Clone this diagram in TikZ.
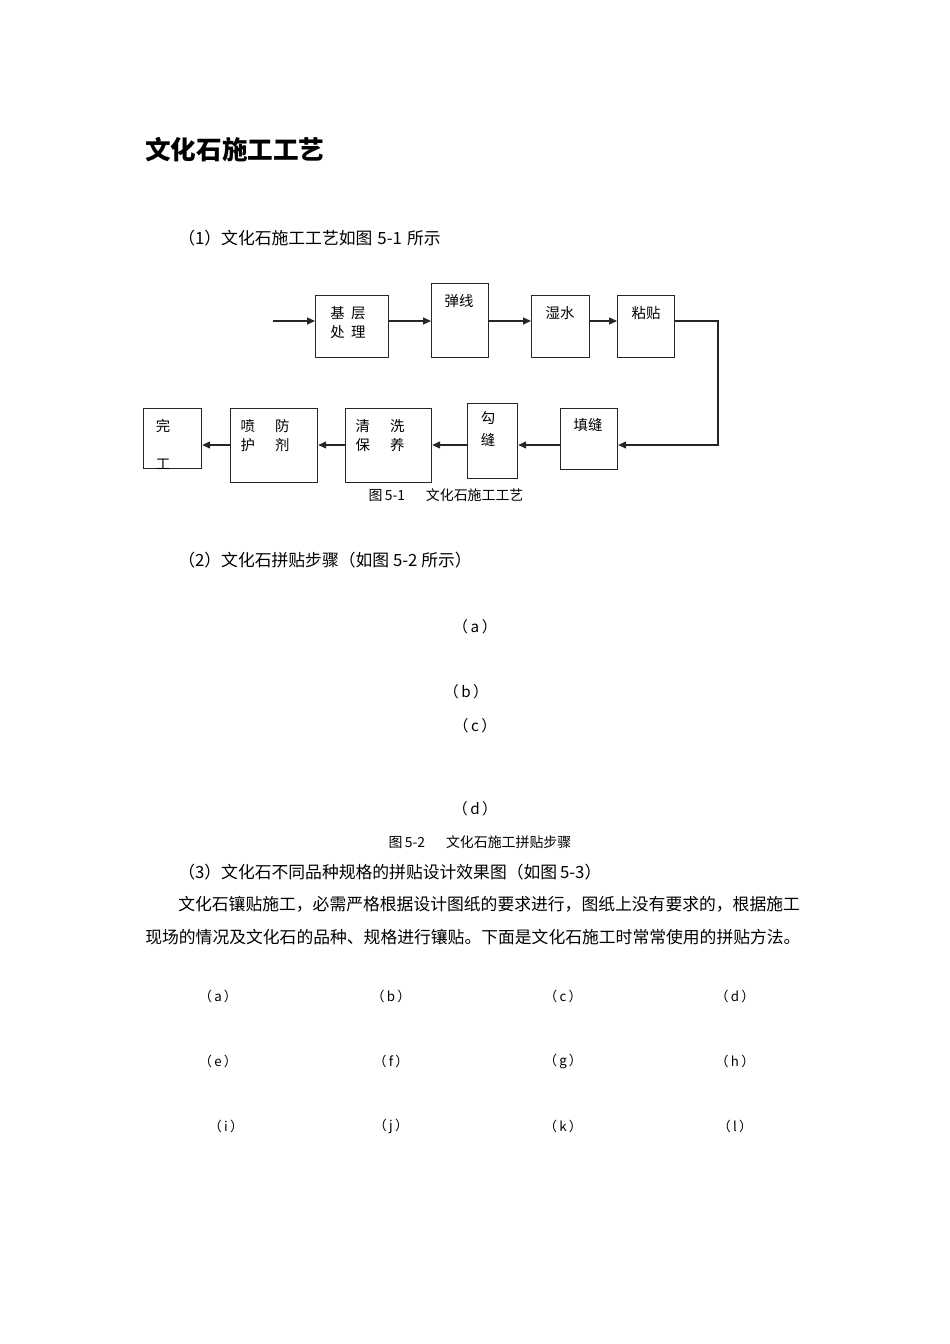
\documentclass[tikz,border=0pt]{standalone}
\usepackage{fontspec}
\setmainfont{Noto Sans CJK SC}
\usetikzlibrary{arrows.meta,positioning}
\tikzset{
  box/.style={draw=black!85, line width=0.75pt, inner sep=0pt, anchor=north west},
  arr/.style={draw=black!85, line width=0.75pt, -{Triangle[length=5pt,width=4.4pt]}},
  boxtext/.style={font=\fontsize{9}{12}\selectfont, align=center, inner sep=0pt},
  body/.style={font=\fontsize{10.5}{12}\selectfont, anchor=west, inner sep=0pt},
  caption/.style={font=\fontsize{8.7}{10}\selectfont, inner sep=0pt},
  sublabel/.style={font=\fontsize{9.5}{11}\selectfont, inner sep=0pt},
  gridlabel/.style={font=\fontsize{8.3}{9}\selectfont, inner sep=0pt}
}
\begin{document}
\begin{tikzpicture}[x=0.625pt, y=-0.625pt]
    \useasboundingbox[fill=white] (0,0) rectangle (950,1344);

    % 标题
    \node[body, font=\fontsize{16}{18}\selectfont\bfseries] (title) at (145,150) {文化石施工工艺};
    \node[body] (s1) at (178,238) {（1）文化石施工工艺如图\hspace{0.3em}5-1\hspace{0.3em}所示};

    % 图5-1
    \node[box, minimum width=45.6pt, minimum height=38.75pt] (jc) at (315,295) {};
    \node[box, minimum width=35.6pt, minimum height=46.25pt] (tx) at (431,283) {};
    \node[box, minimum width=36.25pt, minimum height=38.75pt] (ss) at (531,295) {};
    \node[box, minimum width=35.6pt, minimum height=38.75pt] (zt) at (617,295) {};
    \node[box, minimum width=35.6pt, minimum height=38.1pt] (tf) at (560,408) {};
    \node[box, minimum width=31.25pt, minimum height=46.9pt] (gf) at (467,403) {};
    \node[box, minimum width=53.75pt, minimum height=46.25pt] (qx) at (345,408) {};
    \node[box, minimum width=54.4pt, minimum height=46.25pt] (pf) at (230,408) {};
    \node[box, minimum width=36.25pt, minimum height=37.5pt] (wg) at (143,408) {};

    \node[boxtext] (jc-t) at (348,322.5) {基\hspace{0.45em}层\\处\hspace{0.45em}理};
    \node[boxtext] (tx-t) at (459,301) {弹线};
    \node[boxtext] (ss-t) at (560,313) {湿水};
    \node[boxtext] (zt-t) at (646,313) {粘贴};
    \node[boxtext] (tf-t) at (588,425) {填缝};
    \node[boxtext] (gf-t) at (488,429) {勾\\[1.75pt]缝};
    \node[boxtext] (qx-t) at (380,435.5) {清\hspace{1.4em}洗\\保\hspace{1.4em}养};
    \node[boxtext] (pf-t) at (265,435.5) {喷\hspace{1.4em}防\\护\hspace{1.4em}剂};
    \node[boxtext] (wg-t) at (163,444) {完\\[11.75pt]工};

    \coordinate (r1) at (0,321);
    \coordinate (r2) at (0,445);
    \coordinate (start) at (273,321);
    \coordinate (turn) at (718,321);
    \draw[arr] (start) -- (jc.west |- r1);
    \draw[arr] (jc.east |- r1) -- (tx.west |- r1);
    \draw[arr] (tx.east |- r1) -- (ss.west |- r1);
    \draw[arr] (ss.east |- r1) -- (zt.west |- r1);
    \draw[arr] (zt.east |- r1) -- (turn) |- (tf.east |- r2);
    \draw[arr] (tf.west |- r2) -- (gf.east |- r2);
    \draw[arr] (gf.west |- r2) -- (qx.east |- r2);
    \draw[arr] (qx.west |- r2) -- (pf.east |- r2);
    \draw[arr] (pf.west |- r2) -- (wg.east |- r2);

    \node[caption] (cap1) at (446,495) {图\,5-1\hspace{1.5em}文化石施工工艺};

    % 图5-2
    \node[body] (s2) at (178,560) {（2）文化石拼贴步骤（如图 5-2 所示）};
    \node[sublabel] (la) at (475,627) {（\,a\,）};
    \node[sublabel] (lb) at (466,692) {（\,b\,）};
    \node[sublabel] (lc) at (475,726) {（\,c\,）};
    \node[sublabel] (ld) at (475,809) {（\,d\,）};
    \node[caption] (cap2) at (480,842) {图\,5-2\hspace{1.5em}文化石施工拼贴步骤};

    % 图5-3
    \node[body] (s3) at (178,872) {（3）文化石不同品种规格的拼贴设计效果图（如图\,5-3）};
    \node[body] (p1) at (178,904) {文化石镶贴施工，必需严格根据设计图纸的要求进行，图纸上没有要求的，根据施工};
    \node[body] (p2) at (145,937) {现场的情况及文化石的品种、规格进行镶贴。下面是文化石施工时常常使用的拼贴方法。};

    \node[gridlabel] (ga) at (218,996) {（\,a\,）};
    \node[gridlabel] (gb) at (391,996) {（\,b\,）};
    \node[gridlabel] (gc) at (563,996) {（\,c\,）};
    \node[gridlabel] (gd) at (735,996) {（\,d\,）};
    \node[gridlabel] (ge) at (218,1061) {（\,e\,）};
    \node[gridlabel] (gf2) at (391,1061) {（\,f\,）};
    \node[gridlabel] (gg) at (563,1061) {（\,g\,）};
    \node[gridlabel] (gh) at (735,1061) {（\,h\,）};
    \node[gridlabel] (gi) at (226,1126) {（\,i\,）};
    \node[gridlabel] (gj) at (391,1126) {（\,j\,）};
    \node[gridlabel] (gk) at (563,1126) {（\,k\,）};
    \node[gridlabel] (gl) at (735,1126) {（\,l\,）};
\end{tikzpicture}
\end{document}
